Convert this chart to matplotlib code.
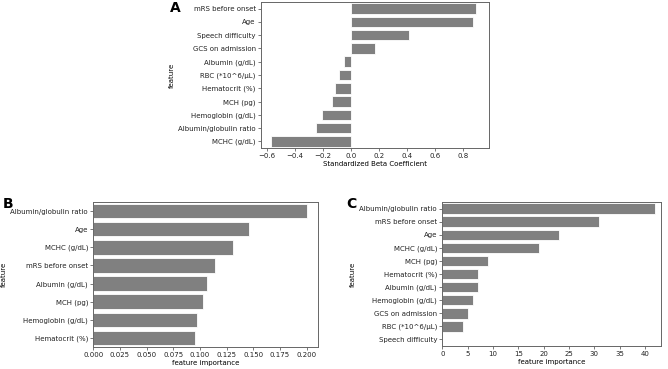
import matplotlib.pyplot as plt

# Panel A: standardized beta coefficients
a_features = ["mRS before onset", "Age", "Speech difficulty", "GCS on admission",
              "Albumin (g/dL)", "RBC (*10^6/\u03bcL)", "Hematocrit (%)", "MCH (pg)",
              "Hemoglobin (g/dL)", "Albumin/globulin ratio", "MCHC (g/dL)"]
a_values = [0.893, 0.869, 0.414, 0.169, -0.052, -0.088, -0.112, -0.138, -0.207, -0.25, -0.569]

# Panel B: feature importance
b_features = ["Albumin/globulin ratio", "Age", "MCHC (g/dL)", "mRS before onset",
              "Albumin (g/dL)", "MCH (pg)", "Hemoglobin (g/dL)", "Hematocrit (%)"]
b_values = [0.2003, 0.1463, 0.1313, 0.1144, 0.1069, 0.1028, 0.0969, 0.0953]

# Panel C: feature importance
c_features = ["Albumin/globulin ratio", "mRS before onset", "Age", "MCHC (g/dL)", "MCH (pg)",
              "Hematocrit (%)", "Albumin (g/dL)", "Hemoglobin (g/dL)", "GCS on admission",
              "RBC (*10^6/\u03bcL)", "Speech difficulty"]
c_values = [42, 31, 23, 19, 9, 7, 7, 6, 5, 4, 0]

BAR = "#808080"
FS = 5.0

fig = plt.figure(figsize=(6.68, 3.69), dpi=100)


def draw(ax, feats, vals, xlim, xlabel, ticks, fmt):
    ys = list(range(len(feats)))
    ax.barh(ys, vals, height=0.8, color=BAR, edgecolor="white", linewidth=0.6)
    ax.set_yticks(ys)
    ax.set_yticklabels(feats)
    ax.set_ylim(len(feats) - 0.5, -0.5)
    ax.set_xlim(*xlim)
    ax.set_xticks(ticks)
    ax.set_xticklabels([fmt.format(t) for t in ticks])
    ax.set_xlabel(xlabel, fontsize=FS, labelpad=1.5)
    ax.set_ylabel("feature", fontsize=FS, labelpad=2.5)
    ax.tick_params(labelsize=FS, length=2, width=0.5, pad=1.8, color="#444444",
                   labelcolor="#222222")
    for s in ax.spines.values():
        s.set_linewidth(0.7)
        s.set_color("#666666")


axA = fig.add_axes([0.3907, 0.5989, 0.3413, 0.3957])
draw(axA, a_features, a_values, (-0.643, 0.986), "Standardized Beta Coefficient",
     [-0.6, -0.4, -0.2, 0.0, 0.2, 0.4, 0.6, 0.8], "{:.1f}")
axA.set_xticklabels(["\u22120.6", "\u22120.4", "\u22120.2", "0.0", "0.2", "0.4", "0.6", "0.8"])

axB = fig.add_axes([0.1397, 0.0596, 0.3364, 0.393])
draw(axB, b_features, b_values, (0, 0.2106), "feature importance",
     [0, 0.025, 0.05, 0.075, 0.1, 0.125, 0.15, 0.175, 0.2], "{:.3f}")

axC = fig.add_axes([0.6621, 0.0623, 0.327, 0.390])
draw(axC, c_features, c_values, (0, 43.1), "feature importance",
     [0, 5, 10, 15, 20, 25, 30, 35, 40], "{:d}")

fig.text(175 / 668, 1 - 8 / 369, "A", fontsize=10, fontweight="bold", ha="center", va="center")
fig.text(8 / 668, 1 - 204 / 369, "B", fontsize=10, fontweight="bold", ha="center", va="center")
fig.text(351 / 668, 1 - 204 / 369, "C", fontsize=10, fontweight="bold", ha="center", va="center")

fig.savefig("out.png", dpi=100)
